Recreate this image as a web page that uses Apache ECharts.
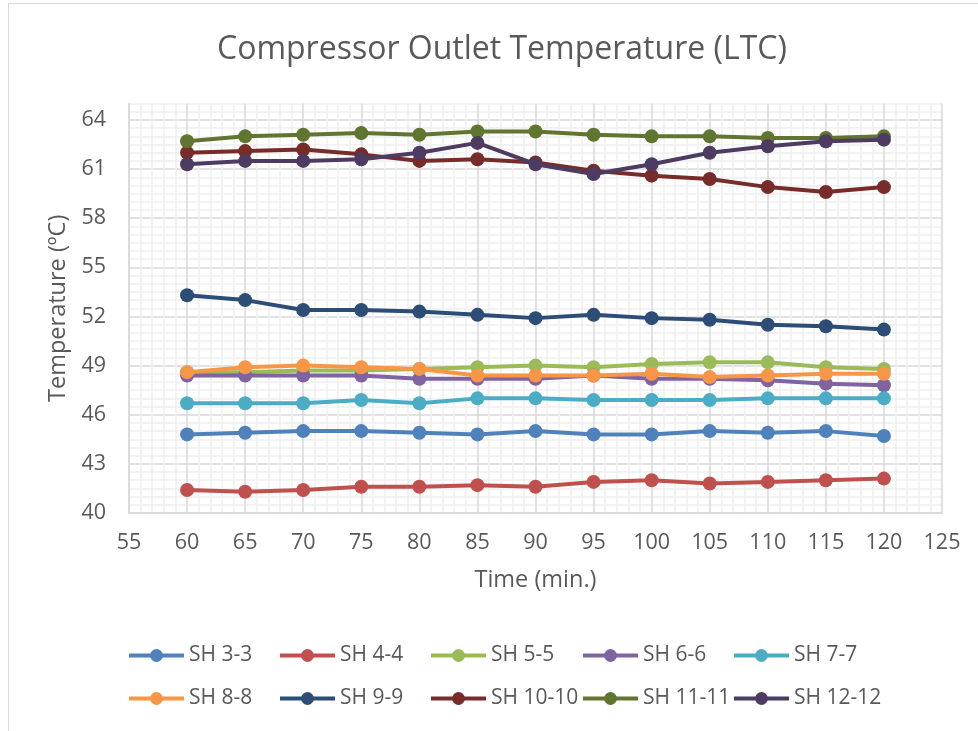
<!DOCTYPE html>
<html>
<head>
<meta charset="utf-8">
<script src="https://cdn.jsdelivr.net/npm/echarts@6/dist/echarts.min.js"></script>
<style>
html,body{margin:0;padding:0;background:#fff;}
#chart{width:978px;height:731px;}
</style>
</head>
<body>
<div id="chart"></div>
<script>
const timeVals = [60, 65, 70, 75, 80, 85, 90, 95, 100, 105, 110, 115, 120];
const seriesNames = ['SH 3-3','SH 4-4','SH 5-5','SH 6-6','SH 7-7','SH 8-8','SH 9-9','SH 10-10','SH 11-11','SH 12-12'];
const sh3 = [44.8, 44.9, 45.0, 45.0, 44.9, 44.8, 45.0, 44.8, 44.8, 45.0, 44.9, 45.0, 44.7];
const sh4 = [41.4, 41.3, 41.4, 41.6, 41.6, 41.7, 41.6, 41.9, 42.0, 41.8, 41.9, 42.0, 42.1];
const sh5 = [48.6, 48.6, 48.7, 48.7, 48.8, 48.9, 49.0, 48.9, 49.1, 49.2, 49.2, 48.9, 48.8];
const sh6 = [48.4, 48.4, 48.4, 48.4, 48.2, 48.2, 48.2, 48.4, 48.2, 48.2, 48.1, 47.9, 47.8];
const sh7 = [46.7, 46.7, 46.7, 46.9, 46.7, 47.0, 47.0, 46.9, 46.9, 46.9, 47.0, 47.0, 47.0];
const sh8 = [48.6, 48.9, 49.0, 48.9, 48.8, 48.4, 48.4, 48.4, 48.5, 48.3, 48.4, 48.5, 48.5];
const sh9 = [53.3, 53.0, 52.4, 52.4, 52.3, 52.1, 51.9, 52.1, 51.9, 51.8, 51.5, 51.4, 51.2];
const sh10 = [62.0, 62.1, 62.2, 61.9, 61.5, 61.6, 61.4, 60.9, 60.6, 60.4, 59.9, 59.6, 59.9];
const sh11 = [62.7, 63.0, 63.1, 63.2, 63.1, 63.3, 63.3, 63.1, 63.0, 63.0, 62.9, 62.9, 63.0];
const sh12 = [61.3, 61.5, 61.5, 61.6, 62.0, 62.6, 61.3, 60.7, 61.3, 62.0, 62.4, 62.7, 62.8];
const yTickLabels = [40, 43, 46, 49, 52, 55, 58, 61, 64];
const xTickLabels = [55, 60, 65, 70, 75, 80, 85, 90, 95, 100, 105, 110, 115, 120, 125];

const allValues = [sh3, sh4, sh5, sh6, sh7, sh8, sh9, sh10, sh11, sh12];
const colors = ['#4F81BD','#C0504D','#9BBB59','#8064A2','#4BACC6','#F79646','#2C4D75','#772C2A','#5F7530','#4D3B62'];
const FONT = '"Open Sans", sans-serif';
const TXT = '#595959';

const series = seriesNames.map((name, i) => ({
  name: name,
  type: 'line',
  data: timeVals.map((t, j) => [t, allValues[i][j]]),
  symbol: 'circle',
  symbolSize: 14,
  lineStyle: { width: 4, color: colors[i] },
  itemStyle: { color: colors[i] },
  z: 2 + i
}));

const legendLeft = [122, 273, 424, 576, 727];
const legendTop = [640, 683];
const legends = seriesNames.map((name, i) => ({
  data: [name],
  left: legendLeft[i % 5],
  top: legendTop[Math.floor(i / 5)],
  itemWidth: 55,
  itemHeight: 16,
  lineStyle: { width: 4 },
  textStyle: { color: TXT, fontSize: 21, fontFamily: FONT },
  selectedMode: false
}));

const yMajor = '#d9d9d9', yMinor = '#efefef';
const ySplitColors = [yMajor, yMinor, yMinor, yMinor, yMinor, yMinor];
const xSplitColors = [yMajor, yMinor, yMinor, yMinor, yMinor];

const option = {
  backgroundColor: '#ffffff',
  animation: false,
  color: colors,
  title: {
    text: 'Compressor Outlet Temperature (LTC)',
    left: 212,
    top: 29,
    textStyle: { color: TXT, fontSize: 32, fontWeight: 'normal', fontFamily: FONT }
  },
  legend: legends,
  grid: { left: 129, right: 36, top: 103.6, bottom: 218, containLabel: false },
  xAxis: {
    type: 'value',
    min: 55, max: 125, interval: 1,
    name: 'Time (min.)',
    nameLocation: 'middle',
    nameGap: 55,
    nameTextStyle: { color: TXT, fontSize: 23.5, fontFamily: FONT },
    axisLine: { show: true, lineStyle: { color: '#d9d9d9', width: 1.5 } },
    axisTick: { show: false },
    axisLabel: {
      color: TXT, fontSize: 21.5, fontFamily: FONT, margin: 19,
      formatter: v => (xTickLabels.indexOf(v) >= 0 ? String(v) : '')
    },
    splitLine: { show: true, lineStyle: { color: xSplitColors, width: 1.5 } }
  },
  yAxis: {
    type: 'value',
    min: 40, max: 65, interval: 0.5,
    name: 'Temperature (ºC)',
    nameLocation: 'middle',
    nameGap: 54,
    nameTextStyle: { color: TXT, fontSize: 23.5, fontFamily: FONT },
    axisLine: { show: true, lineStyle: { color: '#d9d9d9', width: 1.5 } },
    axisTick: { show: false },
    axisLabel: {
      color: TXT, fontSize: 21.5, fontFamily: FONT, margin: 23,
      formatter: v => (yTickLabels.indexOf(v) >= 0 ? String(v) : '')
    },
    splitLine: { show: true, lineStyle: { color: ySplitColors, width: 1.5 } }
  },
  graphic: [{
    type: 'polyline',
    shape: { points: [[8.5, 740], [8.5, 3.5], [990, 3.5]] },
    style: { stroke: '#d9d9d9', fill: null, lineWidth: 1 },
    silent: true
  }],
  series: series
};

const chart = echarts.init(document.getElementById('chart'), null, { renderer: 'canvas' });
chart.setOption(option);
</script>
</body>
</html>
